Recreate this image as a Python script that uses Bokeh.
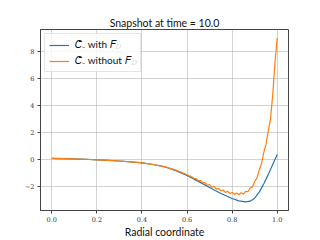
from bokeh.plotting import figure
from bokeh.models import Range1d, FixedTicker, Legend, LegendItem, Label
from bokeh.embed import file_html
from bokeh.resources import INLINE

# data (values in units of 1e-3)
x_with = [0.0, 0.05, 0.1, 0.15, 0.2, 0.25, 0.3, 0.35, 0.4, 0.45, 0.5, 0.55, 0.6, 0.65,
          0.7, 0.75, 0.8, 0.83, 0.86, 0.88, 0.9, 0.92, 0.94, 0.96, 0.98, 1.0]
c_with = [0.05, 0.04, 0.02, -0.01, -0.05, -0.09, -0.14, -0.2, -0.28, -0.4, -0.57, -0.85,
          -1.22, -1.65, -2.1, -2.55, -2.92, -3.1, -3.17, -3.12, -2.9, -2.45, -1.85, -1.15,
          -0.4, 0.35]

x_without = [0.0, 0.05, 0.1, 0.15, 0.2, 0.25, 0.3, 0.35, 0.4, 0.45, 0.5, 0.55,
             0.56, 0.57, 0.58, 0.59, 0.60, 0.61, 0.62, 0.63, 0.64, 0.65, 0.66, 0.67,
             0.68, 0.69, 0.70, 0.71, 0.72, 0.73, 0.74, 0.75, 0.76, 0.77, 0.78, 0.79,
             0.80, 0.81, 0.82, 0.83, 0.84, 0.85, 0.86, 0.87, 0.88, 0.89, 0.90, 0.91,
             0.92, 0.93, 0.94, 0.95, 0.96, 0.97, 0.98, 0.99, 1.00]
c_without = [0.05, 0.04, 0.02, -0.01, -0.05, -0.09, -0.14, -0.2, -0.28, -0.4, -0.56, -0.82,
             -0.88, -0.95, -1.02, -1.09, -1.16, -1.24, -1.30, -1.42, -1.45, -1.60, -1.60, -1.76,
             -1.74, -1.94, -1.89, -2.08, -2.03, -2.22, -2.17, -2.36, -2.29, -2.47, -2.39, -2.55,
             -2.47, -2.62, -2.52, -2.64, -2.50, -2.59, -2.39, -2.42, -2.14, -2.06, -1.66, -1.41,
             -0.82, -0.36, 0.46, 1.09, 2.06, 2.94, 4.76, 7.14, 9.00]

x_ticks = [0.0, 0.2, 0.4, 0.6, 0.8, 1.0]
y_ticks = [-2, 0, 2, 4, 6, 8]

x_start, x_end = -0.05, 1.05
y_start, y_end = -3.81, 9.61

p = figure(width=320, height=240, output_backend="svg", toolbar_location=None,
           x_range=Range1d(x_start, x_end), y_range=Range1d(y_start, y_end),
           min_border_left=40, min_border_right=32, min_border_top=29, min_border_bottom=27)

p.title.text = "Snapshot at time = 10.0"
p.title.align = "center"
p.title.text_font = "Lato"
p.title.text_font_size = "10.5px"
p.title.text_font_style = "normal"
p.title.text_color = "#111111"
p.title.standoff = 1
p.title.offset = 0

r1 = p.line(x_with, c_with, line_color="#1f77b4", line_width=1.2)
r2 = p.line(x_without, c_without, line_color="#ff7f0e", line_width=1.2)

for ax in (p.xaxis, p.yaxis):
    ax.major_label_text_font = "DejaVu Serif"
    ax.major_label_text_font_size = "6.5px"
    ax.major_label_text_color = "#333333"
    ax.major_tick_in = 0
    ax.major_tick_out = 3
    ax.minor_tick_line_color = None
    ax.axis_line_color = "#444444"
    ax.major_tick_line_color = "#444444"
    ax.major_label_standoff = 3

p.xaxis.ticker = FixedTicker(ticks=x_ticks)
p.yaxis.ticker = FixedTicker(ticks=y_ticks)
p.xaxis.major_label_overrides = {t: f"{t:.1f}" for t in x_ticks}
p.yaxis.major_label_overrides = {t: (f"\u2212{abs(t)}" if t < 0 else f"{t}") for t in y_ticks}
p.xaxis.axis_label = "Radial coordinate"
p.xaxis.axis_label_text_font = "Lato"
p.xaxis.axis_label_text_font_size = "10.5px"
p.xaxis.axis_label_text_font_style = "normal"
p.xaxis.axis_label_text_color = "#111111"
p.xaxis.axis_label_standoff = 1

p.outline_line_color = "#444444"
p.outline_line_width = 1
p.xgrid.ticker = FixedTicker(ticks=x_ticks)
p.ygrid.ticker = FixedTicker(ticks=y_ticks)
p.grid.grid_line_color = "#b0b0b0"
p.grid.grid_line_alpha = 0.7
p.grid.grid_line_width = 0.8

legend = Legend(items=[LegendItem(label="\U0001D436\u0304\u208b with \U0001D439\u2002", renderers=[r1]),
                       LegendItem(label="\U0001D436\u0304\u208b without \U0001D439\u2002", renderers=[r2])],
                location="top_left")
legend.margin = 4
legend.padding = 4
legend.spacing = 3
legend.glyph_width = 20
legend.glyph_height = 12
legend.label_standoff = 6
legend.label_text_font = "Lato"
legend.label_text_font_size = "10px"
legend.label_text_color = "#111111"
legend.border_line_color = "#cccccc"
legend.background_fill_alpha = 0.8
p.add_layout(legend)

# subscripts of F in the legend (drawn above the legend box)
for dx, dy in ((75, -21), (91, -37)):
    p.add_layout(Label(x=x_start, y=y_end, text="D", text_font="DejaVu Serif",
                       text_font_style="italic", text_font_size="7px", text_color="#111111",
                       x_offset=dx, y_offset=dy, level="overlay"))

sci = Label(x=x_start, y=y_end, text="\u00d710\u207b\u00b3", text_font="DejaVu Serif",
            text_font_size="6px", text_color="#333333", y_offset=3, x_offset=0)
p.add_layout(sci)

open("out.html", "w").write(file_html(p, INLINE))
